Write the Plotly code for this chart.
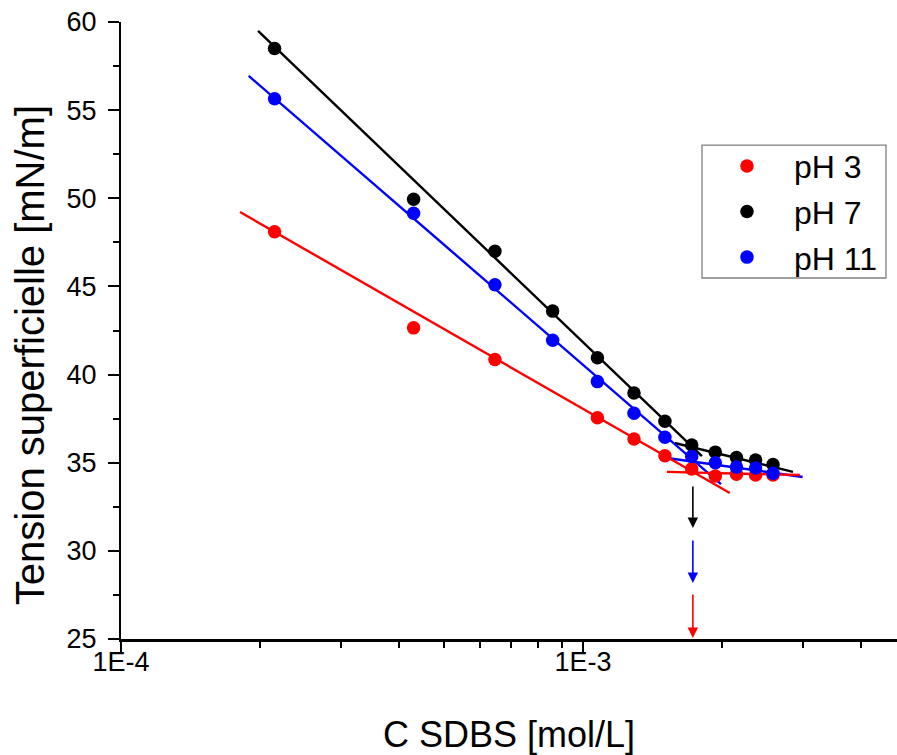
import numpy as np
import plotly.graph_objects as go

# ---- data ----
conc = [2.15e-4, 4.30e-4, 6.45e-4, 8.60e-4, 1.075e-3, 1.29e-3, 1.505e-3,
        1.72e-3, 1.935e-3, 2.15e-3, 2.365e-3, 2.58e-3]
conc_ph3 = [2.15e-4, 4.30e-4, 6.45e-4, 1.075e-3, 1.29e-3, 1.505e-3,
            1.72e-3, 1.935e-3, 2.15e-3, 2.365e-3, 2.58e-3]
tension_ph3 = [48.1, 42.65, 40.85, 37.55, 36.35, 35.4, 34.65, 34.25, 34.35, 34.3, 34.3]
tension_ph7 = [58.5, 49.95, 47.0, 43.6, 40.95, 38.95, 37.35, 36.0, 35.6, 35.3, 35.15, 34.9]
tension_ph11 = [55.65, 49.15, 45.1, 41.95, 39.6, 37.8, 36.45, 35.35, 35.0, 34.75, 34.7, 34.4]

series_names = ["pH 3", "pH 7", "pH 11"]
series_colors = ["#ff0000", "#000000", "#0000ff"]

# linear fit segments (x endpoints, y endpoints)
fit_ph3_steep_x = [1.81e-4, 2.08e-3]; fit_ph3_steep_y = [49.22, 33.28]
fit_ph3_flat_x = [1.52e-3, 2.95e-3];  fit_ph3_flat_y = [34.48, 34.30]
fit_ph7_steep_x = [1.98e-4, 1.81e-3]; fit_ph7_steep_y = [59.49, 35.38]
fit_ph7_flat_x = [1.58e-3, 2.85e-3];  fit_ph7_flat_y = [36.12, 34.48]
fit_ph11_steep_x = [1.89e-4, 1.99e-3]; fit_ph11_steep_y = [56.94, 33.79]
fit_ph11_flat_x = [1.52e-3, 2.99e-3];  fit_ph11_flat_y = [35.27, 34.19]

# CMC arrows (x, y_start, y_end)
cmc_x = 1.73e-3
arrow_ph7 = [33.74, 31.3]
arrow_ph11 = [30.67, 28.18]
arrow_ph3 = [27.61, 25.06]

x_major = [1e-4, 1e-3]
x_major_text = ["1E-4", "1E-3"]
x_minor = [2e-4, 3e-4, 4e-4, 5e-4, 6e-4, 7e-4, 8e-4, 9e-4, 2e-3, 3e-3, 4e-3]
y_major = [25, 30, 35, 40, 45, 50, 55, 60]
y_minor = [27.5, 32.5, 37.5, 42.5, 47.5, 52.5, 57.5]

FONT = "Arial, 'Liberation Sans', sans-serif"

fig = go.Figure()

fits = [
    (fit_ph7_steep_x, fit_ph7_steep_y, "#000000"),
    (fit_ph7_flat_x, fit_ph7_flat_y, "#000000"),
    (fit_ph11_steep_x, fit_ph11_steep_y, "#0000ff"),
    (fit_ph11_flat_x, fit_ph11_flat_y, "#0000ff"),
    (fit_ph3_steep_x, fit_ph3_steep_y, "#ff0000"),
    (fit_ph3_flat_x, fit_ph3_flat_y, "#ff0000"),
]
for fx, fy, c in fits:
    fig.add_trace(go.Scatter(x=fx, y=fy, mode="lines", line=dict(color=c, width=2.4),
                             showlegend=False, hoverinfo="skip"))

for name, xs, ys, c in zip(series_names, [conc_ph3, conc, conc],
                           [tension_ph3, tension_ph7, tension_ph11], series_colors):
    fig.add_trace(go.Scatter(x=xs, y=ys, mode="markers", name=name, legendgroup=name,
                             marker=dict(color=c, size=13.5, line=dict(width=0))))

for (y0, y1), c in zip([arrow_ph7, arrow_ph11, arrow_ph3], ["#000000", "#0000ff", "#ff0000"]):
    fig.add_annotation(x=np.log10(cmc_x), y=y1, ax=np.log10(cmc_x), ay=y0,
                       xref="x", yref="y", axref="x", ayref="y",
                       showarrow=True, arrowhead=2, arrowsize=1.3, arrowwidth=1.6,
                       arrowcolor=c, text="")

# y-axis title as a rotated annotation (placed like the reference)
fig.add_annotation(text="Tension superficielle [mN/m]", textangle=-90,
                   xref="paper", yref="paper", x=-0.1173, y=0.46,
                   xanchor="center", yanchor="middle", showarrow=False,
                   font=dict(size=40, family=FONT, color="black"))

# legend frame
fig.add_shape(type="rect", xref="paper", yref="paper",
              x0=0.7487, x1=0.9858, y0=0.5851, y1=0.8006,
              line=dict(color="#808080", width=1.3), fillcolor="white", layer="above")

fig.update_layout(
    width=897, height=755,
    template="none",
    paper_bgcolor="white", plot_bgcolor="white",
    margin=dict(l=121, r=0, t=22, b=116),
    font=dict(family=FONT, color="black", size=27),
    showlegend=True,
    legend=dict(x=0.7487, y=0.811, xanchor="left", yanchor="top",
                borderwidth=0, bgcolor="rgba(0,0,0,0)",
                font=dict(size=32, family=FONT), tracegroupgap=1,
                indentation=-2, itemwidth=84),
)
fig.update_xaxes(
    type="log", range=[-4, -2.32],
    tickmode="array", tickvals=x_major, ticktext=x_major_text,
    ticks="outside", ticklen=11, tickwidth=1.5, tickcolor="black",
    showline=True, linecolor="black", linewidth=2.5, mirror=False,
    showgrid=False, zeroline=False,
    tickfont=dict(size=27, family=FONT),
    ticklabelstandoff=-14,
    minor=dict(tickmode="array", tickvals=x_minor, ticks="outside", ticklen=6,
               tickwidth=1.5, tickcolor="black", showgrid=False),
    title=dict(text="C SDBS [mol/L]", font=dict(size=36, family=FONT), standoff=55),
    automargin=False,
)
fig.update_yaxes(
    range=[24.9999, 60.0001], tickmode="array", tickvals=y_major,
    ticks="outside", ticklen=11, tickwidth=1.5, tickcolor="black",
    showline=True, linecolor="black", linewidth=2, mirror=False,
    showgrid=False, zeroline=False,
    tickfont=dict(size=27, family=FONT),
    ticklabelstandoff=6,
    minor=dict(tickmode="array", tickvals=y_minor, ticks="outside", ticklen=6,
               tickwidth=1.5, tickcolor="black", showgrid=False),
    automargin=False,
)

# remove the browser's default 8px body margin so the figure sits at the page origin
fig.write_html("out.html", config={"displayModeBar": False},
               post_script="document.body.style.margin='0';")
